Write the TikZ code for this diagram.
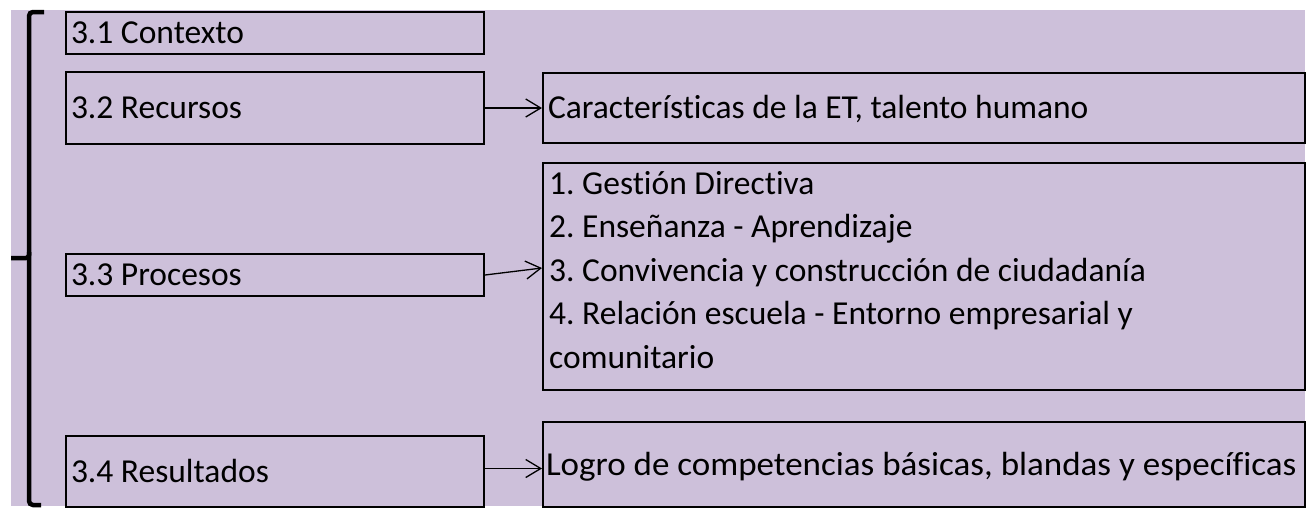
\documentclass[tikz,border=0pt]{standalone}
\usepackage{fontspec}
\setmainfont{Carlito}[Ligatures=NoCommon]
\newfontfamily\widefont{Carlito}[Ligatures=NoCommon,FakeStretch=1.045]
\usetikzlibrary{arrows.meta}
\definecolor{lav}{RGB}{205,192,218}
\frenchspacing
\begin{document}
\begin{tikzpicture}[x=1pt,y=-1pt,
  bx/.style={draw=black, line width=2pt, anchor=north west, inner xsep=5pt, inner ysep=0pt,
    text height=21.5pt, text depth=0pt, font=\fontsize{33.5}{40}\selectfont},
  arr/.style={line width=1.3pt, -{Straight Barb[length=15pt,width=18pt,line width=1.3pt]}},
  brace/.style={line width=4.5pt, rounded corners=4pt}]
\useasboundingbox (0,0) rectangle (1307,512);
\fill[lav] (11,10) rectangle (1305,506);
% bracket
\draw[brace] (44,12) -- (29,12) -- (29,505) -- (41,505);
\draw[line width=4.5pt, rounded corners=3pt] (29,252) -- (29,258) -- (11,258);
% left boxes
\node[bx, minimum height=42pt] (c31) at (65,11) {\makebox[408pt][l]{3.1 Contexto}};
\node[bx, minimum height=72pt] (c32) at (65,71) {\makebox[408pt][l]{3.2 Recursos}};
\node[bx, minimum height=42pt] (c33) at (65,253) {\makebox[408pt][l]{3.3 Procesos}};
\node[bx, minimum height=71pt] (c34) at (65,435) {\makebox[408pt][l]{3.4 Resultados}};
% right boxes
\node[bx, minimum height=70pt] (r32) at (542,72) {\makebox[752pt][l]{Características de la ET, talento humano}};
\node[draw=black, line width=2pt, anchor=north west, minimum width=762pt, minimum height=227pt, inner sep=0pt] (pr) at (542,162) {};
\node[anchor=north west, inner xsep=0pt, inner ysep=0pt, align=left, font=\fontsize{33.5}{43.5}\selectfont] (prt) at (549,171)
  {1. Gestión Directiva\\ 2. Enseñanza - Aprendizaje\\ 3. Convivencia y construcción de ciudadanía\\ 4. Relación escuela - Entorno empresarial y\\ comunitario};
\node[bx, minimum height=85pt, inner xsep=3pt] (r34) at (542,421) {\makebox[756pt][l]{\widefont Logro de competencias básicas, blandas y específicas}};
% arrows
\coordinate (t33) at (542,268);
\draw[arr] (c32.east) -- (c32.east -| r32.west);
\draw[arr] (c33.east) -- (t33);
\draw[arr] ([yshift=3pt]c34.east) -- ([yshift=3pt]c34.east -| r34.west);
\end{tikzpicture}
\end{document}
